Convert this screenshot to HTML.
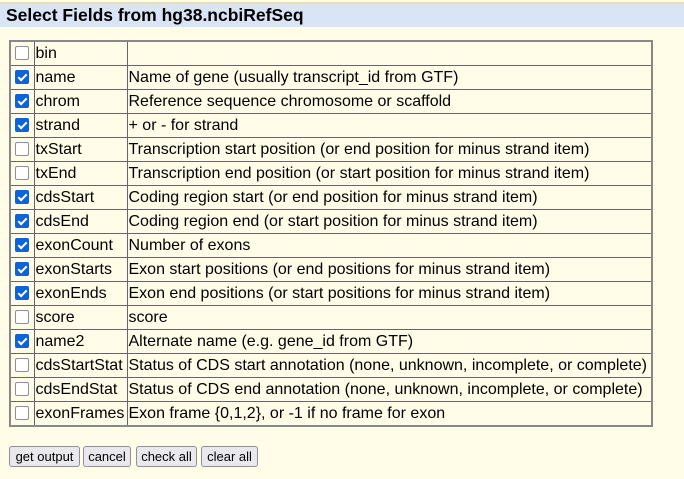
<!DOCTYPE html>
<html><head><style>
body{margin:0;width:684px;height:479px;background:#fffde8;font-family:"Liberation Sans",Arial,sans-serif;position:relative;overflow:hidden}
.topline{position:absolute;left:0;top:2px;width:684px;height:2px;background:#e8dcb0}
.hdr{position:absolute;left:0;top:4px;width:684px;height:23px;background:#d9e4f7;font-weight:bold;font-size:17.5px;line-height:23px;padding-left:6px;box-sizing:border-box;color:#000}
table{position:absolute;left:9px;top:40px;border-collapse:collapse;table-layout:fixed;width:644px;border:2px solid #888;font-size:16px}
td{border:1px solid #666;height:23px;padding:0 0 0 1px;white-space:nowrap;overflow:hidden;line-height:23px}
td.c{padding:0;text-align:center}
.cb{display:inline-block;width:12px;height:12px;border:1px solid #8f8f9d;border-radius:2px;background:#fff;vertical-align:middle;margin-top:-2px}
.cb.on{background:#0b63de;border-color:#0b63de;position:relative}
.cb.on:after{content:"";position:absolute;left:4px;top:1px;width:3px;height:7px;border:solid #fff;border-width:0 2px 2px 0;transform:rotate(45deg)}
.btn{position:absolute;top:446px;height:21px;background:#e9e9ed;border:1px solid #8f8f9d;border-radius:3px;font-size:13px;line-height:20px;text-align:center;box-sizing:border-box}
</style></head><body>
<div class="topline"></div>
<div class="hdr">Select Fields from hg38.ncbiRefSeq</div>
<table>
<colgroup><col style="width:24px"><col style="width:93px"><col></colgroup>
<tr><td class="c"><span class="cb"></span></td><td>bin</td><td></td></tr>
<tr><td class="c"><span class="cb on"></span></td><td>name</td><td>Name of gene (usually transcript_id from GTF)</td></tr>
<tr><td class="c"><span class="cb on"></span></td><td>chrom</td><td>Reference sequence chromosome or scaffold</td></tr>
<tr><td class="c"><span class="cb on"></span></td><td>strand</td><td>+ or - for strand</td></tr>
<tr><td class="c"><span class="cb"></span></td><td>txStart</td><td>Transcription start position (or end position for minus strand item)</td></tr>
<tr><td class="c"><span class="cb"></span></td><td>txEnd</td><td>Transcription end position (or start position for minus strand item)</td></tr>
<tr><td class="c"><span class="cb on"></span></td><td>cdsStart</td><td>Coding region start (or end position for minus strand item)</td></tr>
<tr><td class="c"><span class="cb on"></span></td><td>cdsEnd</td><td>Coding region end (or start position for minus strand item)</td></tr>
<tr><td class="c"><span class="cb on"></span></td><td>exonCount</td><td>Number of exons</td></tr>
<tr><td class="c"><span class="cb on"></span></td><td>exonStarts</td><td>Exon start positions (or end positions for minus strand item)</td></tr>
<tr><td class="c"><span class="cb on"></span></td><td>exonEnds</td><td>Exon end positions (or start positions for minus strand item)</td></tr>
<tr><td class="c"><span class="cb"></span></td><td>score</td><td>score</td></tr>
<tr><td class="c"><span class="cb on"></span></td><td>name2</td><td>Alternate name (e.g. gene_id from GTF)</td></tr>
<tr><td class="c"><span class="cb"></span></td><td>cdsStartStat</td><td>Status of CDS start annotation (none, unknown, incomplete, or complete)</td></tr>
<tr><td class="c"><span class="cb"></span></td><td>cdsEndStat</td><td>Status of CDS end annotation (none, unknown, incomplete, or complete)</td></tr>
<tr><td class="c"><span class="cb"></span></td><td>exonFrames</td><td>Exon frame {0,1,2}, or -1 if no frame for exon</td></tr>
</table>
<div class="btn" style="left:9px;width:71px">get output</div>
<div class="btn" style="left:83px;width:48px">cancel</div>
<div class="btn" style="left:136px;width:61px">check all</div>
<div class="btn" style="left:201px;width:57px">clear all</div>
</body></html>
